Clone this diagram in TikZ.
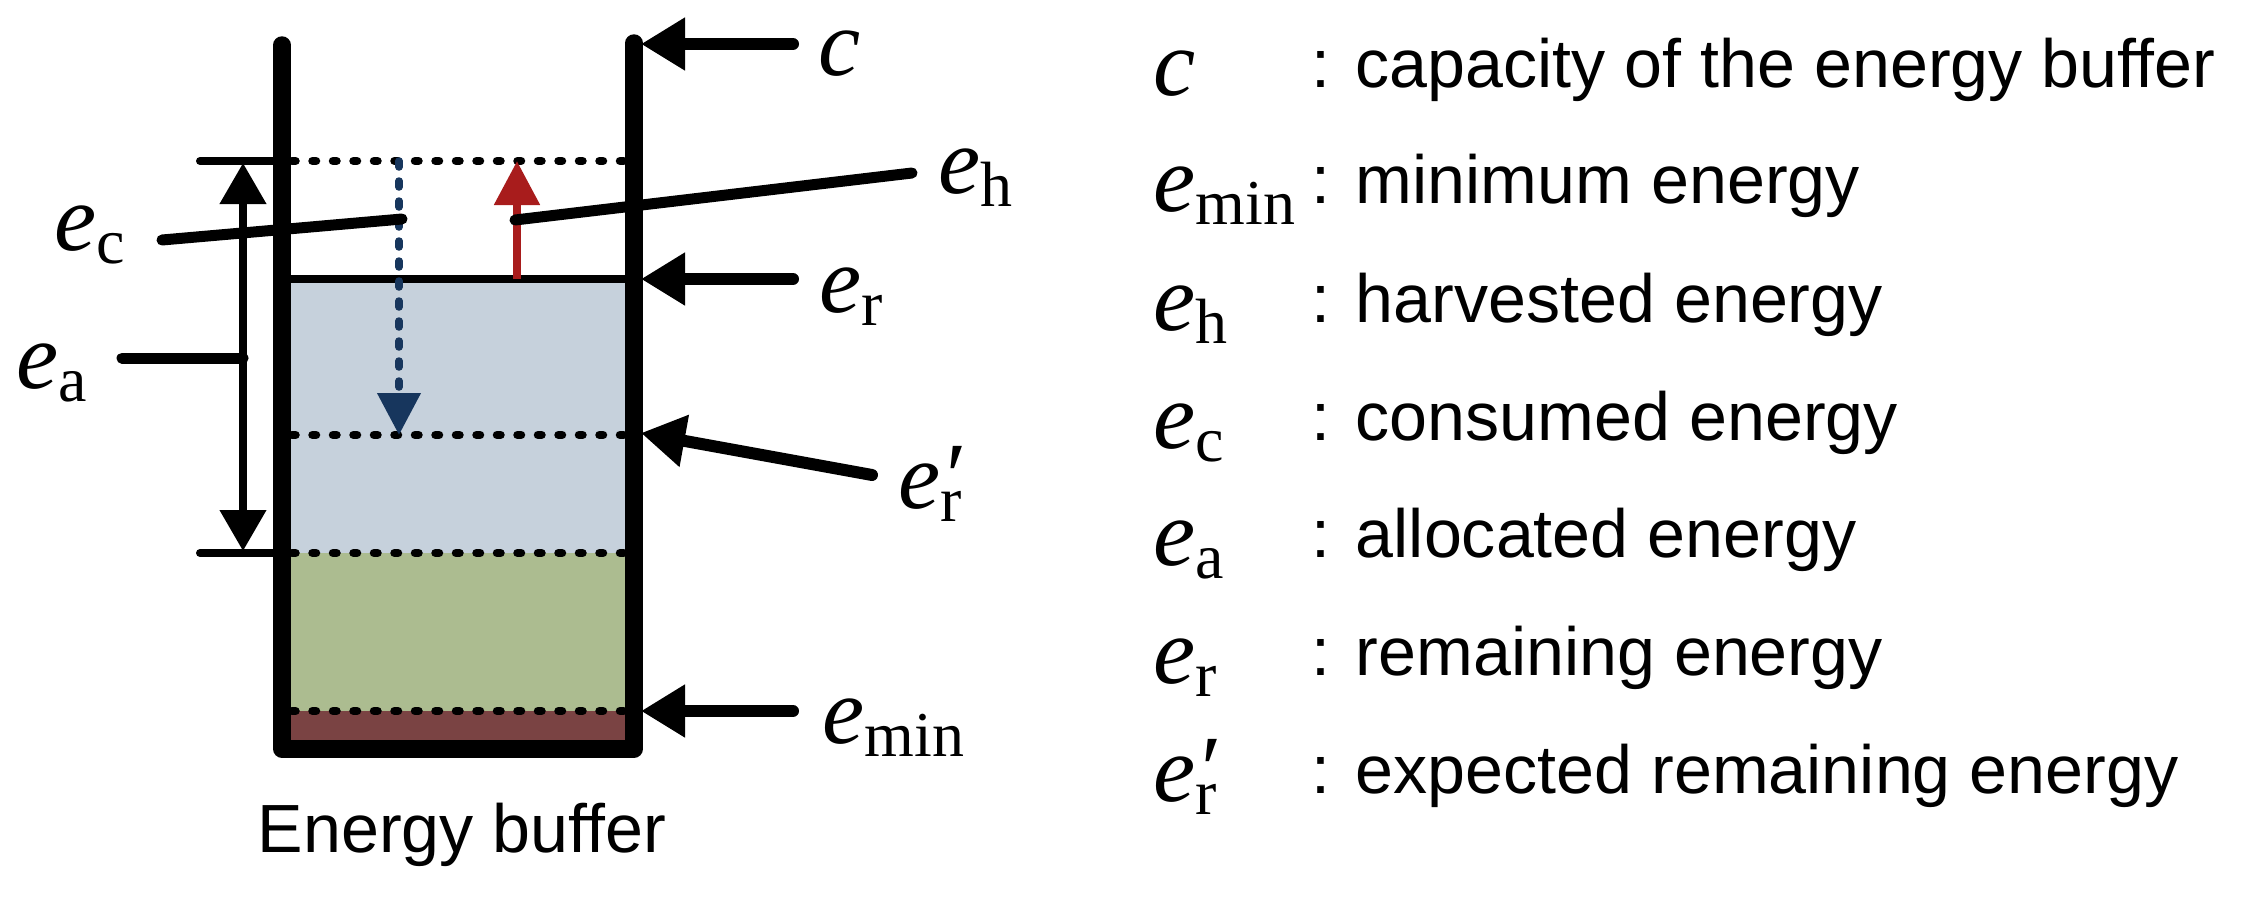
\documentclass[tikz,border=0pt]{standalone}
\usepackage{fontspec}
\setmainfont{Liberation Serif}
\setsansfont{Liberation Sans}
\usepackage{tikz}
\usetikzlibrary{arrows.meta}
\definecolor{fillblue}{HTML}{C6D1DC}
\definecolor{fillgreen}{HTML}{ACBC90}
\definecolor{fillbrown}{HTML}{7A4343}
\definecolor{consblue}{HTML}{17365D}
\definecolor{harvred}{HTML}{A81C1C}
\newcommand{\labfont}{\rmfamily\fontsize{27}{30}\selectfont}
\newcommand{\subfont}{\fontsize{18.2}{20}\selectfont}
\newcommand{\legfont}{\sffamily\fontsize{19.4}{23}\selectfont}
\newcommand{\esub}[1]{\textit{e}\raisebox{-3.8pt}{\subfont #1}}
\newcommand{\esubprime}{\textit{e}\rlap{\raisebox{-3.8pt}{\subfont r}}\textit{′}}

\begin{document}
\begin{tikzpicture}[x=0.1mm,y=-0.1mm,
	wall/.style={line width=1.75mm,line cap=round,line join=round},
	level/.style={line width=0.85mm,dash pattern=on 0.35mm off 1.7mm,line cap=round},
	tick/.style={line width=0.8mm,line cap=round},
	leader/.style={line width=1.1mm,line cap=round},
	pointer/.style={line width=1.2mm,line cap=round,-{Triangle[length=4.4mm,width=5mm]}},
	sym/.style={anchor=base west,inner sep=0pt,font=\labfont},
	legend/.style={anchor=base west,inner sep=0pt,font=\legfont}]
	\useasboundingbox (0,0) rectangle (2243,911);
	\fill [fillblue] (282,279) rectangle (634,553);
	\fill [fillgreen] (282,553) rectangle (634,711);
	\fill [fillbrown] (282,711) rectangle (634,741);
	\coordinate (lt) at (282,45);
	\coordinate (lb) at (282,749);
	\coordinate (rb) at (634,749);
	\coordinate (rt) at (634,43);
	\coordinate (capL) at (292,161);
	\coordinate (capR) at (626,161);
	\coordinate (capW) at (282,161);
	\coordinate (capT) at (200,161);
	\coordinate (remL) at (290,279);
	\coordinate (remR) at (626,279);
	\coordinate (expL) at (292,435);
	\coordinate (expR) at (626,435);
	\coordinate (allL) at (292,553);
	\coordinate (allR) at (626,553);
	\coordinate (allW) at (282,553);
	\coordinate (allT) at (200,553);
	\coordinate (minL) at (292,711);
	\coordinate (minR) at (626,711);
	\coordinate (aTop) at (243,163);
	\coordinate (aBot) at (243,551);
	\coordinate (aMid) at (243,358);
	\coordinate (aEnd) at (122,358);
	\coordinate (cFrom) at (399,161);
	\coordinate (cTo) at (399,435);
	\coordinate (cLead) at (402,219);
	\coordinate (cEnd) at (162,240);
	\coordinate (hFrom) at (517,279);
	\coordinate (hTo) at (517,161);
	\coordinate (hLead) at (515,220);
	\coordinate (hEnd) at (912,173);
	\coordinate (pc) at (793,44);
	\coordinate (wc) at (641,44);
	\coordinate (pr) at (793,279);
	\coordinate (wr) at (641,279);
	\coordinate (pe) at (872,475);
	\coordinate (we) at (641,433);
	\coordinate (pm) at (793,711);
	\coordinate (wm) at (641,711);
	\draw [level] (capL) to (capR);
	\draw [level] (expL) to (expR);
	\draw [level] (allL) to (allR);
	\draw [level] (minL) to (minR);
	\draw [line width=0.85mm] (remL) to (remR);
	\draw [tick] (capT) to (capW);
	\draw [tick] (allT) to (allW);
	\draw [wall] (lt) -- (lb) -- (rb) -- (rt);
	\draw [line width=0.75mm,{Triangle[length=4.1mm,width=4.5mm]}-{Triangle[length=4.1mm,width=4.5mm]}] (aTop) to (aBot);
	\draw [leader] (aEnd) to (aMid);
	\draw [consblue,line width=0.75mm,dash pattern=on 0.6mm off 1.4mm,line cap=round,-{Triangle[length=4.2mm,width=4.2mm]}] (cFrom) to (cTo);
	\draw [harvred,line width=0.85mm,-{Triangle[length=4.4mm,width=4.4mm]}] (hFrom) to (hTo);
	\draw [leader] (cEnd) to (cLead);
	\draw [leader] (hLead) to (hEnd);
	\draw [pointer] (pc) to (wc);
	\draw [pointer] (pr) to (wr);
	\draw [pointer] (pe) to (we);
	\draw [pointer] (pm) to (wm);
	\node at (818,75) [sym] (lc) {\textit{c}};
	\node at (938,193) [sym] (lh) {\esub{h}};
	\node at (819,312) [sym] (lr) {\esub{r}};
	\node at (898,508) [sym] (lrp) {\esubprime};
	\node at (822,743) [sym] (lmin) {\esub{min}};
	\node at (54,250) [sym] (lcons) {\esub{c}};
	\node at (16,388) [sym] (lall) {\esub{a}};
	\node at (462,852) [anchor=base,inner sep=0pt,font=\legfont] (buf) {Energy buffer};
	\node at (1153,95) [sym] (s1) {\textit{c}};
	\node at (1153,211) [sym] (s2) {\esub{min}};
	\node at (1153,330) [sym] (s3) {\esub{h}};
	\node at (1153,448) [sym] (s4) {\esub{c}};
	\node at (1153,565) [sym] (s5) {\esub{a}};
	\node at (1153,683) [sym] (s6) {\esub{r}};
	\node at (1153,801) [sym] (s7) {\esubprime};
	\node at (1311,87) [legend] (t1) {: capacity of the energy buffer};
	\node at (1311,203) [legend] (t2) {: minimum energy};
	\node at (1311,322) [legend] (t3) {: harvested energy};
	\node at (1311,440) [legend] (t4) {: consumed energy};
	\node at (1311,557) [legend] (t5) {: allocated energy};
	\node at (1311,675) [legend] (t6) {: remaining energy};
	\node at (1311,793) [legend] (t7) {: expected remaining energy};
\end{tikzpicture}
\end{document}
